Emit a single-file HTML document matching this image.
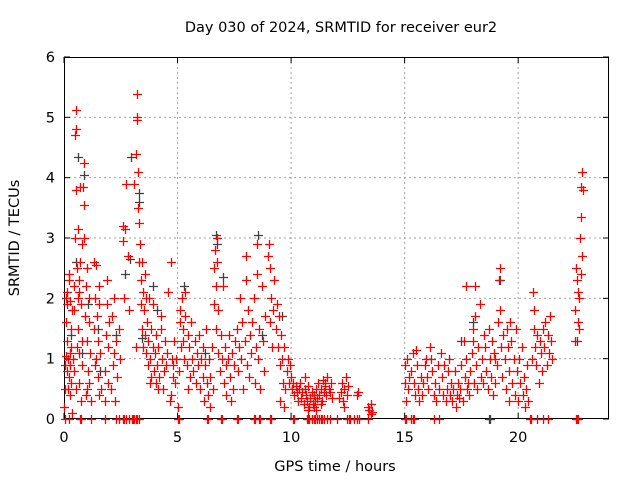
<!DOCTYPE html>
<html><head><meta charset="utf-8"><style>
body{margin:0;background:#fff}
svg text{font-family:"DejaVu Sans","Liberation Sans",sans-serif;font-size:14.5px;fill:#000}
</style></head><body>
<svg id="chart" width="640" height="480" viewBox="0 0 640 480" xmlns="http://www.w3.org/2000/svg">
<rect width="640" height="480" fill="#fff"/>
<g id="grid"></g>
<g id="axes"></g>
<g id="gray"></g>
<g id="red"></g>
<text x="341" y="32" text-anchor="middle">Day 030 of 2024, SRMTID for receiver eur2</text>
<text x="335" y="471" text-anchor="middle">GPS time / hours</text>
<text transform="translate(19,238) rotate(-90)" text-anchor="middle">SRMTID / TECUs</text>
</svg>
<script>
const xTicks=[0,5,10,15,20];
const yTicks=[0,1,2,3,4,5,6];
const redPoints=[[0.02,0.2],[0.05,0.5],[0.05,0.9],[0.08,1.05],[0.1,1.6],[0.1,2.0],[0.12,1.9],[0.15,2.1],[0.15,0.8],[0.18,1.0],[0.2,0.7],[0.2,2.3],[0.22,2.4],[0.25,1.1],[0.25,0.4],[0.28,0.9],[0.3,1.5],[0.3,0.6],[0.33,1.2],[0.35,0.1],[0.35,1.8],[0.12,1.3],[0.18,0.5],[0.27,1.95],
[0.4,1.0],[0.42,2.2],[0.45,0.8],[0.48,3.0],[0.5,4.7],[0.52,4.8],[0.55,5.12],[0.55,3.8],[0.58,2.5],[0.6,3.15],[0.6,2.0],[0.62,1.5],[0.65,2.3],[0.65,0.6],[0.68,1.1],[0.7,2.6],[0.72,3.85],[0.75,1.9],[0.75,0.3],[0.78,2.9],[0.8,1.3],[0.8,0.9],[0.45,1.8],[0.52,0.5],[0.58,1.2],[0.68,2.1],
[0.85,3.85],[0.88,3.0],[0.9,3.55],[0.9,4.25],[0.95,2.2],[0.95,0.4],[1.0,1.3],[1.0,0.5],[1.05,0.8],[1.08,1.6],[1.1,2.0],[1.12,0.6],[1.15,1.1],[1.18,0.3],[0.92,1.7],[1.02,2.5],
[1.3,2.6],[1.32,1.5],[1.35,2.0],[1.35,0.9],[1.4,2.55],[1.42,1.0],[1.45,1.7],[1.48,0.7],[1.5,1.3],[1.52,2.2],[1.55,0.4],[1.55,1.9],[1.6,1.1],[1.62,0.5],
[1.8,0.8],[1.82,0.3],[1.85,1.4],[1.88,2.3],[1.9,1.9],[1.92,0.6],[1.95,1.2],[2.0,1.6],[2.05,0.5],[2.1,1.7],[2.15,0.9],[2.2,2.0],[2.2,1.1],[2.25,0.3],[2.3,1.3],[2.35,0.7],[2.4,1.5],[2.45,1.0],
[2.6,3.2],[2.62,2.95],[2.65,2.0],[2.7,3.15],[2.75,3.9],[2.8,2.7],[2.85,1.8],
[3.1,3.9],[3.15,1.2],[3.18,4.4],[3.2,5.0],[3.22,5.38],[3.22,4.95],[3.25,4.1],[3.28,3.5],[3.3,2.6],[3.32,3.25],[3.35,2.9],[3.38,2.3],[3.4,1.9],[3.42,2.6],[3.45,1.5],[3.48,2.1],[3.5,1.2],[3.52,1.8],[3.55,2.4],[3.58,1.4],[3.6,2.0],[3.6,1.1],
[3.65,1.6],[3.7,0.9],[3.72,1.3],[3.75,2.0],[3.8,1.0],[3.82,1.5],[3.85,0.7],[3.9,1.2],[3.92,1.9],[3.95,0.8],[4.0,1.1],[4.05,1.4],[4.05,0.6],[4.1,0.9],[4.15,1.2],[4.2,0.7],[4.25,1.7],[4.3,1.0],[4.35,0.5],[4.4,0.8],[4.45,1.3],[4.5,0.9],[4.55,1.1],[4.6,2.1],[3.78,0.6],[4.12,0.5],[4.28,1.5],
[4.65,0.3],[4.7,0.4],[4.72,2.6],[4.75,1.0],[4.8,0.7],[4.85,1.3],[4.9,0.6],[4.95,1.0],[5.0,0.2],[4.82,0.9],
[5.05,0.8],[5.1,1.8],[5.12,1.6],[5.15,1.2],[5.2,2.0],[5.25,1.5],[5.3,1.0],[5.32,1.7],[5.35,2.1],[5.4,0.9],[5.45,1.4],[5.5,1.2],[5.55,0.7],[5.6,1.6],[5.65,1.0],[5.7,0.8],[5.75,1.3],[5.8,0.6],[5.85,1.1],[5.9,0.9],[5.95,1.4],[5.22,1.3],[5.48,0.5],
[6.0,0.5],[6.05,1.0],[6.1,0.7],[6.12,1.2],[6.15,0.3],[6.2,0.9],[6.25,1.5],[6.3,0.6],[6.35,0.4],[6.4,1.0],[6.42,0.2],[6.45,0.7],[6.5,1.2],[6.55,0.5],
[6.6,1.9],[6.62,2.5],[6.65,2.8],[6.68,2.2],[6.7,1.5],[6.72,3.0],[6.75,2.6],[6.78,1.1],[6.8,1.8],[6.85,0.8],[6.9,1.4],[6.95,1.0],[7.0,2.2],
[7.05,0.6],[7.1,1.2],[7.12,0.9],[7.15,0.4],[7.2,1.0],[7.25,1.4],[7.3,0.7],[7.35,0.3],[7.4,1.1],[7.45,0.5],[7.5,0.9],[7.55,1.3],
[7.6,1.5],[7.65,0.8],[7.7,1.2],[7.75,2.0],[7.8,1.0],[7.85,1.6],[7.9,0.5],[7.95,1.3],[8.0,2.7],[8.02,2.3],[8.05,0.9],[8.1,1.8],[8.15,0.7],[8.2,1.4],[8.25,1.1],
[8.3,1.6],[8.35,2.0],[8.4,0.6],[8.45,1.2],[8.5,2.9],[8.52,2.4],[8.55,1.0],[8.6,1.5],[8.65,0.5],[8.7,2.2],[8.75,1.3],[8.8,0.8],[8.85,1.7],
[9.0,2.7],[9.02,2.9],[9.05,2.5],[9.08,1.6],[9.1,2.0],[9.15,1.2],[9.2,1.8],[9.25,2.3],
[9.35,1.5],[9.4,1.9],[9.42,1.2],[9.45,1.7],[9.5,0.9],[9.55,1.4],[9.6,1.0],[9.65,0.6],[9.7,1.2],[9.75,0.5],[9.8,0.8],[9.85,1.0],[9.9,0.6],[9.95,0.9],[9.5,0.3],[9.7,0.2],
[10.0,0.7],[10.05,0.5],[10.1,0.6],[10.15,0.4],[10.2,0.55],[10.3,0.3],[10.35,0.5],[10.4,0.6],[10.45,0.35],[10.5,0.45],[10.55,0.25],[10.6,0.5],[10.65,0.4],[10.7,0.3],[10.75,0.55],[10.8,0.2],[10.85,0.35],[10.9,0.45],[10.95,0.25],[11.0,0.4],[11.05,0.3],[11.1,0.5],[11.15,0.35],[11.2,0.6],[11.25,0.4],[11.3,0.5],[11.35,0.3],[11.4,0.65],[11.45,0.45],[11.5,0.55],[11.55,0.4],[11.6,0.7],[11.65,0.5],[11.7,0.45],[11.75,0.6],[11.8,0.35],[10.25,0.45],[10.75,0.15],[11.0,0.2],[11.3,0.25],[10.6,0.7],[11.1,0.15],[12.2,0.45],[12.25,0.6],[12.3,0.3],[12.35,0.5],[12.4,0.7],[12.45,0.4],[12.5,0.55],[12.35,0.2],[12.1,0.35],
[12.9,0.4],[12.95,0.45],[13.4,0.2],[13.45,0.15],[13.5,0.25],[13.55,0.12],[13.5,0.08],
[15.0,0.9],[15.02,0.6],[15.05,0.3],[15.1,1.0],[15.15,0.5],[15.2,0.7],[15.3,0.8],[15.35,1.1],[15.4,0.6],[15.45,0.4],[15.5,1.15],[15.55,0.9],[15.6,0.5],[15.65,0.3],[15.7,0.7],[15.75,0.4],[15.8,0.6],[15.9,0.9],[15.95,1.0],[16.0,0.7],[16.05,0.5],[16.1,1.2],[16.15,1.0],[16.2,0.8],[16.3,0.4],[16.35,0.6],[16.4,0.3],[16.45,0.9],[16.5,0.5],
[16.6,1.1],[16.65,0.7],[16.7,0.4],[16.75,0.9],[16.8,0.3],[16.85,0.5],[16.9,0.8],[16.95,1.0],[17.0,0.4],[17.05,0.6],[17.1,0.3],[17.15,0.5],[17.2,0.8],[17.25,0.2],[17.3,0.4],[17.35,0.6],[17.4,0.35],[17.45,0.5],[17.5,0.9],[17.55,0.3],[17.6,1.3],[17.65,0.7],[17.7,2.2],[17.72,1.0],[17.75,0.5],[17.8,0.6],[17.85,0.4],[17.9,0.8],[17.95,1.1],[18.0,1.5],[18.02,1.3],[18.05,0.6],[18.1,2.2],[18.12,1.7],[18.15,0.9],[18.2,0.5],[18.25,1.2],[18.3,1.9],[18.35,0.7],[18.4,1.0],[18.45,0.6],[18.5,1.4],
[18.55,1.2],[18.6,0.8],[18.65,0.5],[18.7,1.5],[18.75,1.0],[18.8,0.7],[18.85,1.3],[18.9,0.4],[18.95,1.1],[19.0,0.6],[19.05,0.9],[19.1,1.6],[19.15,2.3],[19.18,2.5],[19.2,1.8],[19.25,1.2],[19.3,0.7],[19.35,1.4],[19.4,1.0],[19.45,0.5],[19.5,1.5],[19.55,1.2],[19.6,0.8],[19.65,1.6],[19.7,1.3],[19.75,0.6],[19.8,1.0],[19.85,0.4],[19.9,1.5],[19.95,0.8],[20.0,0.3],[20.05,1.0],[20.1,0.6],[20.15,1.2],[20.2,0.4],[20.25,0.7],[20.3,0.2],[20.35,0.5],[20.4,0.9],[20.45,0.3],[19.0,1.0],[19.6,0.3],
[20.6,1.0],[20.65,2.1],[20.68,1.8],[20.7,1.5],[20.75,1.2],[20.8,0.9],[20.85,1.4],[20.9,0.6],[20.95,1.3],[21.0,1.1],[21.05,0.8],[21.1,1.5],[21.15,1.2],[21.2,1.6],[21.25,0.9],[21.3,1.4],[21.35,1.1],[21.4,1.7],[21.45,1.3],[21.5,1.0],
[22.5,1.3],[22.52,1.8],[22.55,2.5],[22.6,2.3],[22.62,1.6],[22.65,2.1],[22.7,2.0],[22.72,3.0],[22.75,3.85],[22.78,3.35],[22.8,2.7],[22.82,4.1],[22.85,3.8],[22.75,2.4],[22.68,1.5]];
const grayPoints=[[0.6,4.35],[0.9,4.05],[0.55,2.6],[1.05,1.9],[2.7,2.4],[2.95,4.35],[2.9,2.65],[3.3,3.6],[3.3,3.75],[3.45,1.35],[3.9,2.2],[6.7,3.05],[6.75,2.9],[7.0,2.35],[8.55,3.05],[8.7,1.4],[1.6,0.8],[1.5,1.5],[19.2,2.3],[22.6,1.3],[0.3,1.4],[18.0,1.6],[9.6,1.7],[5.3,2.2],[6.2,1.1],[4.1,1.8],[2.3,1.4],[0.8,1.1],[11.5,0.6],[17.5,1.3],[18.7,0],[18.75,0]];
const zeroHours=[0.05,0.2,0.7,0.75,1.2,1.8,2.3,2.4,2.6,2.65,2.75,2.85,3.0,3.05,3.1,3.15,3.2,3.3,5.0,5.05,6.3,6.35,6.9,6.95,7.6,7.65,8.35,8.4,8.6,8.65,9.05,9.1,10.1,10.15,10.7,10.75,10.8,10.9,11.0,11.05,11.15,11.25,11.3,11.35,11.45,11.6,11.7,12.0,12.45,12.55,12.6,12.75,12.9,13.0,13.4,15.0,15.05,15.3,15.35,15.4,16.3,16.5,20.5,20.55,20.85,21.1,21.3,22.55,22.6,22.65];

const X0=64,X1=609,Y0=419,Y1=57,XMAX=24,YMAX=6;
function sx(h){return X0+(X1-X0)*h/XMAX;}
function sy(v){return Y0-(Y0-Y1)*v/YMAX;}
const NS="http://www.w3.org/2000/svg";
function mk(tag,attrs,parent){const e=document.createElementNS(NS,tag);for(const k in attrs)e.setAttribute(k,attrs[k]);parent.appendChild(e);return e;}
const grid=document.getElementById('grid'),axes=document.getElementById('axes');
yTicks.forEach(t=>{
  const y=sy(t);
  if(t>0&&t<YMAX){const l=mk('line',{x1:X0,x2:X1,y1:y,y2:y,stroke:'#a0a0a0','stroke-dasharray':'2,3'},grid);
  
  }
  mk('line',{x1:X0,x2:X0+6,y1:y,y2:y,stroke:'#000'},axes);
  mk('line',{x1:X1,x2:X1-6,y1:y,y2:y,stroke:'#000'},axes);
  const tx=mk('text',{x:X0-9,y:y+5,'text-anchor':'end'},axes);tx.textContent=t;
  
  
});
xTicks.forEach(t=>{
  const x=sx(t);
  if(t>0){const l=mk('line',{x1:x,x2:x,y1:Y0,y2:Y1,stroke:'#a0a0a0','stroke-dasharray':'2,3'},grid);
  
  }
  mk('line',{x1:x,x2:x,y1:Y0,y2:Y0-6,stroke:'#000'},axes);
  mk('line',{x1:x,x2:x,y1:Y1,y2:Y1+6,stroke:'#000'},axes);
  const tx=mk('text',{x:x,y:Y0+23,'text-anchor':'middle'},axes);tx.textContent=t;
  
  
});
const frame=mk('rect',{x:X0+0.5,y:Y1+0.5,width:X1-X0-1,height:Y0-Y1-1,fill:'none',stroke:'#000'},axes);


function plus(g,h,v,col){
  const x=Math.round(sx(h))+0.5,y=Math.round(sy(v))+0.5;
  const p=mk('path',{d:`M${x-4.5},${y}H${x+4.5}M${x},${y-4.5}V${y+4.5}`,stroke:col,'stroke-width':1.3,fill:'none'},g);
  return p;
}
const gg=document.getElementById('gray'),rg=document.getElementById('red');
grayPoints.forEach(p=>{const e=plus(gg,p[0],p[1],'#404040');
  
  });
redPoints.forEach(p=>{const e=plus(rg,p[0],p[1],'#ff0000');
  
  });
zeroHours.forEach(h=>{const e=plus(rg,h,0,'#ff0000');
  
  });
</script>
</body></html>
